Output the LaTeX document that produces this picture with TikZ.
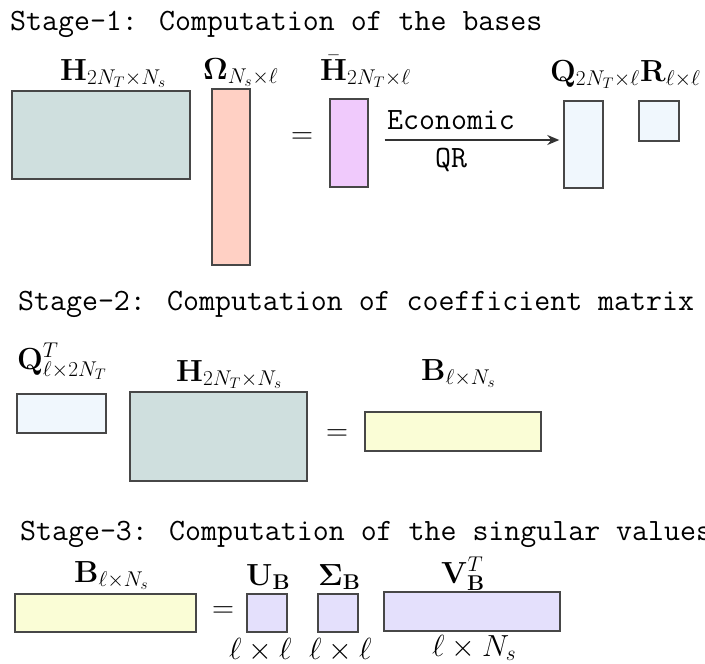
\RequirePackage{fix-cm}
\documentclass[tikz,border=0pt]{standalone}
\usepackage{amsmath,bm}
\usetikzlibrary{arrows.meta,positioning}

\definecolor{hgray}{RGB}{207,223,222}
\definecolor{omsalmon}{RGB}{255,208,196}
\definecolor{hbviolet}{RGB}{240,202,252}
\definecolor{qblue}{RGB}{240,247,253}
\definecolor{byellow}{RGB}{250,253,214}
\definecolor{svdlilac}{RGB}{228,224,252}

\begin{document}
\begin{tikzpicture}[x=1pt,y=-1pt,
  >={Stealth[length=12pt,width=10pt]},
  every node/.style={font=\fontsize{30.5}{36}\selectfont,inner sep=0pt},
  title/.style={font=\fontsize{31}{37}\selectfont\ttfamily,anchor=base west},
  lab/.style={anchor=base west},
  mat/.style={draw=black!72,line width=1.4pt},
  flow/.style={->,line width=1.6pt,draw=black!80},
  note/.style={font=\fontsize{31}{37}\selectfont\ttfamily}]
  \useasboundingbox (0,0) rectangle (705,664);

  % Stage 1
  \node[title] (s1) at (10,30) {Stage-1: Computation of the bases};
  \node[mat,fill=hgray,minimum width=178pt,minimum height=88pt] (H1) at (101,135) {};
  \node[mat,fill=omsalmon,minimum width=38pt,minimum height=176pt] (Omega) at (231,177) {};
  \node (eq1) at (302,138) {$=$};
  \node[mat,fill=hbviolet,minimum width=38pt,minimum height=88pt] (Hbar) at (349,143) {};
  \node[mat,fill=qblue,minimum width=39pt,minimum height=87pt] (Q) at (583.5,144.5) {};
  \node[mat,fill=qblue,minimum width=40pt,minimum height=40pt] (R) at (659,121) {};
  \node[lab] (H1lab) at (60,80) {$\mathbf{H}_{2N_T\times N_s}$};
  \node[lab] (Omegalab) at (203,79) {$\bm{\Omega}_{N_s\times\ell}$};
  \node[lab] (Hbarlab) at (320,80) {$\bar{\mathbf{H}}_{2N_T\times\ell}$};
  \node[lab] (Qlab) at (550,81) {$\mathbf{Q}_{2N_T\times\ell}$};
  \node[lab] (Rlab) at (640,81) {$\mathbf{R}_{\ell\times\ell}$};
  \draw[flow] ([xshift=16pt,yshift=3pt]Hbar.east) --
    node[note,pos=0.38,above=10pt]{Economic}
    node[note,pos=0.38,below=7pt]{QR}
    ([xshift=-4pt,yshift=3pt]Hbar.east -| Q.west);

  % Stage 2
  \node[title] (s2) at (18,310) {Stage-2: Computation of coefficient matrix};
  \node[mat,fill=qblue,minimum width=89pt,minimum height=39pt] (Qt) at (61.5,413.5) {};
  \node[mat,fill=hgray,minimum width=177pt,minimum height=89pt] (H2) at (218.5,436.5) {};
  \node (eq2) at (337,435) {$=$};
  \node[mat,fill=byellow,minimum width=176pt,minimum height=39pt] (B2) at (453,431.5) {};
  \node[lab] (Qtlab) at (17,369) {$\mathbf{Q}^T_{\ell\times 2N_T}$};
  \node[lab] (H2lab) at (176,381) {$\mathbf{H}_{2N_T\times N_s}$};
  \node[lab] (B2lab) at (421,380) {$\mathbf{B}_{\ell\times N_s}$};

  % Stage 3
  \node[title] (s3) at (20,540) {Stage-3: Computation of the singular values};
  \node[mat,fill=byellow,minimum width=181pt,minimum height=38pt] (B3) at (105.5,613) {};
  \node (eq3) at (223,612) {$=$};
  \node[mat,fill=svdlilac,minimum width=40pt,minimum height=38pt] (U) at (267,613) {};
  \node[mat,fill=svdlilac,minimum width=40pt,minimum height=38pt] (Sigma) at (338,613) {};
  \node[mat,fill=svdlilac,minimum width=176pt,minimum height=39pt] (V) at (472,611.5) {};
  \node[lab] (B3lab) at (74,582) {$\mathbf{B}_{\ell\times N_s}$};
  \node[lab] (Ulab) at (246,585) {$\mathbf{U}_{\mathbf{B}}$};
  \node[lab] (Sigmalab) at (318,585) {$\bm{\Sigma}_{\mathbf{B}}$};
  \node[lab] (Vlab) at (441,583) {$\mathbf{V}^T_{\mathbf{B}}$};
  \node[lab] (Udim) at (229,659) {$\ell\times\ell$};
  \node[lab] (Sigmadim) at (309,659) {$\ell\times\ell$};
  \node[lab] (Vdim) at (432,656) {$\ell\times N_s$};
\end{tikzpicture}
\end{document}
